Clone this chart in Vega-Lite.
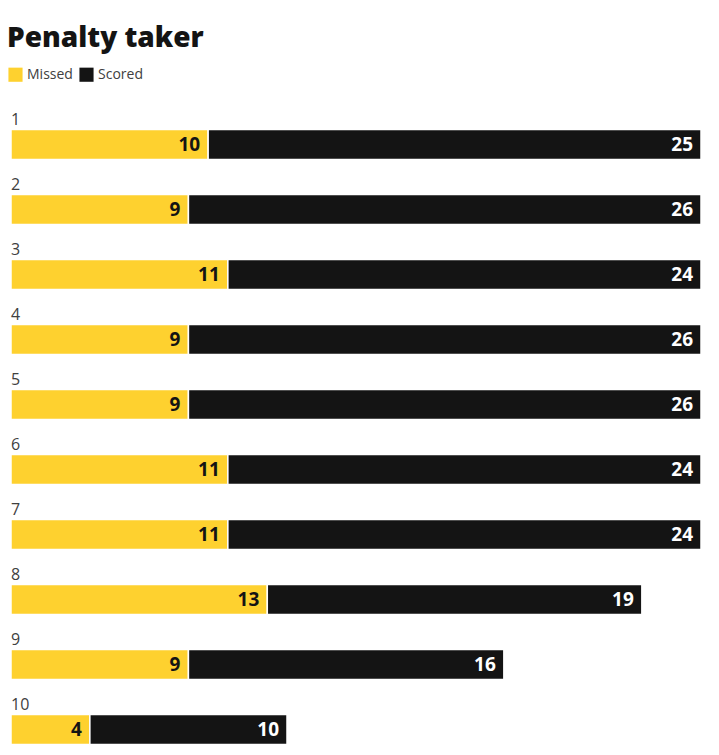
{
  "$schema": "https://vega.github.io/schema/vega-lite/v6.json",
  "autosize": "none",
  "width": 690,
  "height": 650,
  "padding": {"left": 11, "top": 100, "right": 18, "bottom": 5},
  "background": "white",
  "config": {
    "view": {"stroke": null},
    "font": "Open Sans"
  },
  "title": {
    "text": "Penalty taker",
    "anchor": "start",
    "frame": "group",
    "fontSize": 28,
    "fontWeight": 800,
    "font": "Open Sans",
    "color": "#141414",
    "offset": 14,
    "dx": -4
  },
  "data": {
    "values": [
      {"row": "1", "outcome": "Missed", "value": 10},
      {"row": "1", "outcome": "Scored", "value": 25},
      {"row": "2", "outcome": "Missed", "value": 9},
      {"row": "2", "outcome": "Scored", "value": 26},
      {"row": "3", "outcome": "Missed", "value": 11},
      {"row": "3", "outcome": "Scored", "value": 24},
      {"row": "4", "outcome": "Missed", "value": 9},
      {"row": "4", "outcome": "Scored", "value": 26},
      {"row": "5", "outcome": "Missed", "value": 9},
      {"row": "5", "outcome": "Scored", "value": 26},
      {"row": "6", "outcome": "Missed", "value": 11},
      {"row": "6", "outcome": "Scored", "value": 24},
      {"row": "7", "outcome": "Missed", "value": 11},
      {"row": "7", "outcome": "Scored", "value": 24},
      {"row": "8", "outcome": "Missed", "value": 13},
      {"row": "8", "outcome": "Scored", "value": 19},
      {"row": "9", "outcome": "Missed", "value": 9},
      {"row": "9", "outcome": "Scored", "value": 16},
      {"row": "10", "outcome": "Missed", "value": 4},
      {"row": "10", "outcome": "Scored", "value": 10}
    ]
  },
  "transform": [
    {"stack": "value", "groupby": ["row"], "sort": [{"field": "outcome"}], "as": ["v0", "v1"]}
  ],
  "encoding": {
    "y": {
      "field": "row",
      "type": "ordinal",
      "sort": ["1", "2", "3", "4", "5", "6", "7", "8", "9", "10"],
      "scale": {"paddingInner": 0, "paddingOuter": 0},
      "axis": null
    }
  },
  "layer": [
    {
      "mark": {"type": "bar", "size": 30, "yOffset": 12, "stroke": "white", "strokeWidth": 1.5},
      "encoding": {
        "x": {"field": "v0", "type": "quantitative", "scale": {"domain": [0, 35], "nice": false}, "axis": null},
        "x2": {"field": "v1"},
        "color": {
          "field": "outcome",
          "type": "nominal",
          "scale": {"domain": ["Missed", "Scored"], "range": ["#fed12f", "#141414"]},
          "legend": {
            "orient": "none",
            "legendX": -3,
            "legendY": -33,
            "direction": "horizontal",
            "title": null,
            "symbolType": "square",
            "symbolSize": 200,
            "symbolStrokeWidth": 0,
            "symbolOpacity": 1,
            "labelFontSize": 14,
            "labelColor": "#404040",
            "labelFont": "Open Sans",
            "labelOffset": 4,
            "columnPadding": 6
          }
        }
      }
    },
    {
      "mark": {"type": "text", "align": "right", "baseline": "middle", "dx": -8, "dy": 12, "fontSize": 19, "fontWeight": "bold"},
      "encoding": {
        "x": {"field": "v1", "type": "quantitative"},
        "text": {"field": "value", "type": "quantitative"},
        "color": {
          "condition": {"test": "datum.outcome === 'Scored'", "value": "white"},
          "value": "#141414"
        }
      }
    },
    {
      "transform": [{"filter": "datum.outcome === 'Missed'"}],
      "mark": {"type": "text", "align": "left", "baseline": "middle", "dy": -13, "fontSize": 16, "color": "#404040"},
      "encoding": {
        "x": {"datum": 0, "type": "quantitative"},
        "text": {"field": "row", "type": "nominal"}
      }
    }
  ]
}
